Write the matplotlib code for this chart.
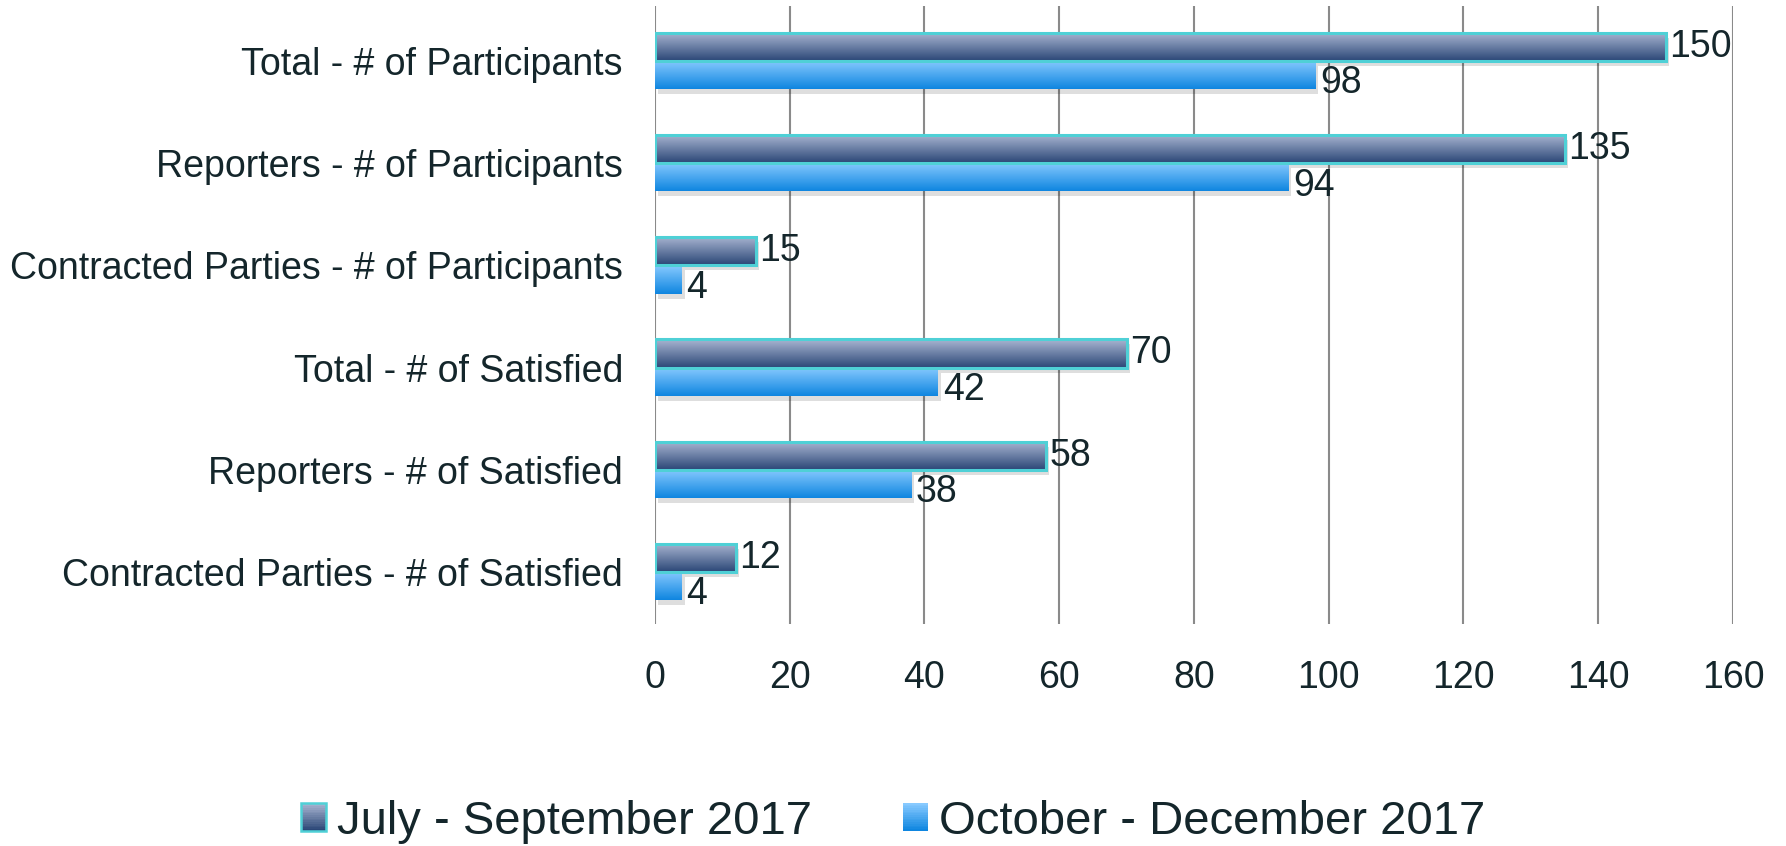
import matplotlib
matplotlib.use("Agg")
import matplotlib.pyplot as plt
import matplotlib.transforms as mtransforms
from matplotlib.patches import Rectangle
from matplotlib.legend_handler import HandlerBase
import numpy as np

plt.rcParams['font.family'] = ['Liberation Sans', 'DejaVu Sans']

categories = [
    "Total - # of Participants",
    "Reporters - # of Participants",
    "Contracted Parties - # of Participants",
    "Total - # of Satisfied",
    "Reporters - # of Satisfied",
    "Contracted Parties - # of Satisfied",
]
series_names = ["July - September 2017", "October - December 2017"]
jul_sep = [150, 135, 15, 70, 58, 12]
oct_dec = [98, 94, 4, 42, 38, 4]
xticks = [0, 20, 40, 60, 80, 100, 120, 140, 160]

TXT = '#14262b'
grad_dark = ('#aab6d2', '#2b4777')   # top -> bottom
grad_blue = ('#88caff', '#0f86e0')
edge_dark = '#4fd0d6'

fig = plt.figure(figsize=(17.86, 8.46), dpi=100)
ax = fig.add_axes([0.3667, 0.2624, 0.6036, 0.7306])

n = len(categories)
y = np.arange(n)
h = 0.276

def vgrad(c1, c2, steps=64):
    a = np.array(matplotlib.colors.to_rgb(c1))
    b = np.array(matplotlib.colors.to_rgb(c2))
    t = np.linspace(0, 1, steps)[:, None]
    return (a * (1 - t) + b * t)[:, None, :]

shadow_tr = ax.transData + mtransforms.ScaledTranslation(3 / 100, -5 / 100, fig.dpi_scale_trans)

def draw_bar(val, yc, grad, edge):
    y_top = yc - h
    y_bot = yc
    ax.barh(yc - h / 2, val, height=h, left=0, color='black', alpha=0.13,
            transform=shadow_tr, zorder=2, linewidth=0)
    img = vgrad(*grad)
    ax.imshow(img, extent=[0, val, y_bot, y_top], aspect='auto', zorder=3,
              interpolation='bilinear', origin='upper')
    if edge:
        ax.barh(yc - h / 2, val, height=h, left=0, facecolor='none',
                edgecolor=edge, linewidth=2.2, zorder=4)

for i in range(n):
    draw_bar(jul_sep[i], y[i], grad_dark, edge_dark)
    draw_bar(oct_dec[i], y[i] + h, grad_blue, None)
    ax.text(jul_sep[i] + 0.5, y[i] - h / 2, str(jul_sep[i]), va='center', ha='left',
            fontsize=27, color=TXT, zorder=5)
    ax.text(oct_dec[i] + 0.7, y[i] + h / 2 + 0.08, str(oct_dec[i]), va='center', ha='left',
            fontsize=27, color=TXT, zorder=5)

ax.set_xlim(0, 160)
ax.set_ylim(n - 0.5 + 0.01, -0.54)
ax.set_xticks(xticks)
ax.set_xticklabels([str(v) for v in xticks], fontsize=27, color=TXT)
ax.set_yticks(y)
ax.set_yticklabels(categories, fontsize=27, color=TXT)
ax.tick_params(axis='both', length=0)
ax.tick_params(axis='x', pad=26)
ax.tick_params(axis='y', pad=23)
for s in ax.spines.values():
    s.set_visible(False)
ax.xaxis.grid(True, color='#8a8a8a', linewidth=1.5, zorder=0)
ax.set_axisbelow(True)

class GradHandler(HandlerBase):
    def __init__(self, grad, edge):
        super().__init__()
        self.grad = grad
        self.edge = edge
    def create_artists(self, legend, orig_handle, xdescent, ydescent, width, height, fontsize, trans):
        arts = []
        cols = vgrad(*self.grad, steps=16)[:, 0, :]
        k = len(cols)
        for j, c in enumerate(cols):
            yy = -ydescent + height - (j + 1) * height / k
            arts.append(Rectangle((-xdescent, yy), width, height / k + 0.3, facecolor=c,
                                  edgecolor='none', transform=trans))
        if self.edge:
            arts.append(Rectangle((-xdescent, -ydescent), width, height, facecolor='none',
                                  edgecolor=self.edge, linewidth=1.8, transform=trans))
        return arts

h1 = Rectangle((0, 0), 1, 1)
h2 = Rectangle((0, 0), 1, 1)
fig.legend([h1, h2], series_names, loc='center', bbox_to_anchor=(0.5, 1 - 822 / 846),
           ncol=2, frameon=False, fontsize=34, handlelength=0.53, handleheight=0.53,
           handletextpad=0.23, columnspacing=1.94, labelcolor=TXT,
           handler_map={h1: GradHandler(grad_dark, edge_dark), h2: GradHandler(grad_blue, None)})

fig.savefig('out.png', dpi=100)
